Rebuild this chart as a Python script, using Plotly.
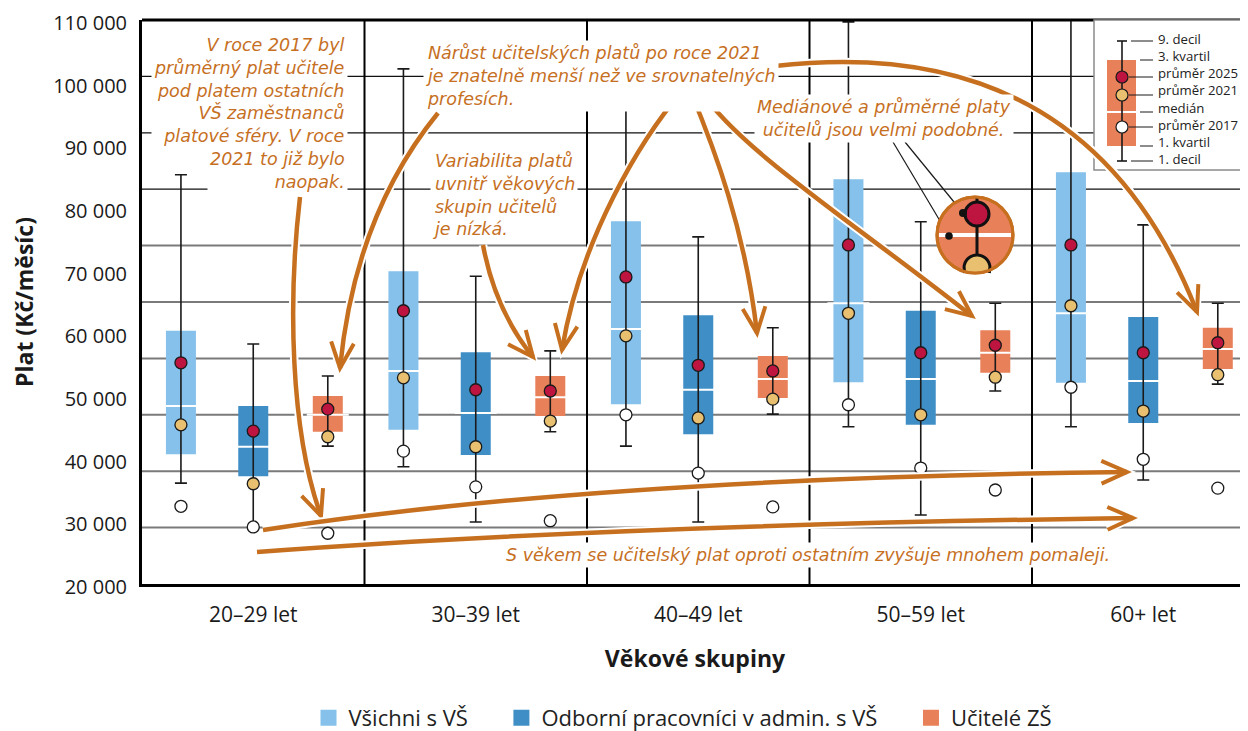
import numpy as np
import plotly.graph_objects as go

# ---------------- data ----------------
categories = ["20–29 let", "30–39 let", "40–49 let", "50–59 let", "60+ let"]
y_tick_values = [20000, 30000, 40000, 50000, 60000, 70000, 80000, 90000, 100000, 110000]
y_tick_labels = ["20 000", "30 000", "40 000", "50 000", "60 000", "70 000",
                 "80 000", "90 000", "100 000", "110 000"]
grid_gray = [29000, 38000, 47000, 56000, 65000, 74000]
grid_black = [83000, 92000, 101000]

series_names = ["Všichni s VŠ", "Odborní pracovníci v admin. s VŠ", "Učitelé ZŠ"]
series_colors = ["#85C1EA", "#3F8FC6", "#E8805A"]
series_offsets = [-0.325, 0.0, 0.335]
legend_padding = [5, 5, 0]

# Všichni s VŠ
all_decile9 = [85300, 102200, 98500, 109700, 111500]
all_quartile3 = [60400, 69900, 77900, 84600, 85700]
all_median = [48400, 54000, 60700, 64800, 63200]
all_quartile1 = [40700, 44600, 48700, 52200, 52100]
all_decile1 = [36100, 38700, 42000, 45100, 45100]
all_mean2025 = [55300, 63600, 69000, 74100, 74100]
all_mean2021 = [45400, 52900, 59600, 63200, 64400]
all_mean2017 = [32400, 41200, 47000, 48600, 51400]

# Odborní pracovníci v admin. s VŠ
adm_decile9 = [58300, 69100, 75400, 77800, 77300]
adm_quartile3 = [48400, 57000, 62900, 63600, 62600]
adm_median = [41900, 47300, 51000, 52700, 52400]
adm_quartile1 = [37200, 40600, 43900, 45400, 45700]
adm_decile1 = [29000, 29900, 29900, 31000, 36600]
adm_mean2025 = [44400, 51000, 54900, 56900, 56900]
adm_mean2021 = [36000, 41900, 46500, 47000, 47600]
adm_mean2017 = [29100, 35500, 37700, 38500, 39900]

# Učitelé ZŠ
tea_decile9 = [53200, 57200, 60900, 64800, 64800]
tea_quartile3 = [50000, 53200, 56400, 60500, 60900]
tea_median = [47000, 49800, 52700, 56900, 57500]
tea_quartile1 = [44300, 46800, 49700, 53700, 54300]
tea_decile1 = [42000, 44300, 47100, 50800, 51900]
tea_mean2025 = [47900, 50800, 54000, 58100, 58500]
tea_mean2021 = [43500, 46000, 49500, 53000, 53400]
tea_mean2017 = [28100, 30100, 32300, 35000, 35300]

series = [
    (all_decile9, all_quartile3, all_median, all_quartile1, all_decile1, all_mean2025, all_mean2021, all_mean2017),
    (adm_decile9, adm_quartile3, adm_median, adm_quartile1, adm_decile1, adm_mean2025, adm_mean2021, adm_mean2017),
    (tea_decile9, tea_quartile3, tea_median, tea_quartile1, tea_decile1, tea_mean2025, tea_mean2021, tea_mean2017),
]

# ---------------- style / geometry ----------------
FONT = "'Open Sans', Lato, sans-serif"
HAND = "'DejaVu Sans', 'Noto Sans', sans-serif"
ORANGE = "#C6701F"
RED = "#BE1540"
YELLOW = "#E8C070"
OFF = 8                      # page offset of the figure (body margin)
WIDTH, HEIGHT = 1240, 723
L, T, R, B = 142, 20, 1248, 584   # plot area in page pixels
PW, PH = R - L, B - T
UNIT = 222.5
X_RANGE = [-0.5, -0.5 + PW / UNIT]
Y_RANGE = [19999.5, 110000.5]
BOX_W = 30 / UNIT


def px(x):
    return (x - L) / PW


def py(y):
    return (B - y) / PH


def pt(x, y):
    return f"{px(x):.5f},{py(y):.5f}"


fig = go.Figure()

# boxes (1. - 3. kvartil)
for (d9, q3, med, q1, d1, m25, m21, m17), col, off in zip(series, series_colors, series_offsets):
    xs = [i + off for i in range(len(categories))]
    fig.add_trace(go.Bar(x=xs, y=[a - b for a, b in zip(q3, q1)], base=q1, width=BOX_W,
                         marker=dict(color=col, line=dict(width=0)), showlegend=False,
                         hoverinfo="skip"))
# medians
for (d9, q3, med, q1, d1, m25, m21, m17), col, off in zip(series, series_colors, series_offsets):
    xs = [i + off for i in range(len(categories))]
    fig.add_trace(go.Scatter(x=xs, y=med, mode="markers", showlegend=False, hoverinfo="skip",
                             marker=dict(symbol="line-ew", size=30, line=dict(color="white", width=2))))
# whiskers (1. decil - 9. decil)
for (d9, q3, med, q1, d1, m25, m21, m17), col, off in zip(series, series_colors, series_offsets):
    xs = [i + off for i in range(len(categories))]
    fig.add_trace(go.Scatter(
        x=xs, y=med, mode="markers", showlegend=False, hoverinfo="skip",
        marker=dict(size=1, color="rgba(0,0,0,0)"),
        error_y=dict(type="data", symmetric=False,
                     array=[a - b for a, b in zip(d9, med)],
                     arrayminus=[b - a for a, b in zip(d1, med)],
                     thickness=1.6, width=6, color="#1a1a1a")))
# means
for (d9, q3, med, q1, d1, m25, m21, m17), col, off in zip(series, series_colors, series_offsets):
    xs = [i + off for i in range(len(categories))]
    for vals, fc in ((m17, "white"), (m21, YELLOW), (m25, RED)):
        fig.add_trace(go.Scatter(x=xs, y=vals, mode="markers", showlegend=False, hoverinfo="skip",
                                 marker=dict(size=12, color=fc, line=dict(color="#1a1a1a", width=1.3))))
# legend entries
for name, col, pad in zip(series_names, series_colors, legend_padding):
    fig.add_trace(go.Scatter(x=[None], y=[None], mode="markers", name=name + "\u00a0" * pad,
                             marker=dict(symbol="square", size=16, color=col)))

shapes = []
for v in grid_gray:
    shapes.append(dict(type="line", xref="paper", yref="y", x0=0, x1=1, y0=v, y1=v,
                       line=dict(color="#7a7a7a", width=2), layer="below"))
for v in grid_black:
    shapes.append(dict(type="line", xref="paper", yref="y", x0=0, x1=1, y0=v, y1=v,
                       line=dict(color="#111111", width=1.2), layer="below"))
for b in [i + 0.5 for i in range(len(categories) - 1)]:
    shapes.append(dict(type="line", xref="x", yref="paper", x0=b, x1=b, y0=0, y1=1,
                       line=dict(color="#000000", width=2), layer="below"))
shapes.append(dict(type="line", xref="paper", yref="paper", x0=0, x1=1, y0=1, y1=1,
                   line=dict(color="#000000", width=3)))


def lshape(x0, y0, x1, y1, color, width):
    return dict(type="line", xref="paper", yref="paper", x0=px(x0), y0=py(y0), x1=px(x1), y1=py(y1),
                line=dict(color=color, width=width), layer="above")


def cshape(cx, cy, r, fill, lcol, lw):
    return dict(type="circle", xref="paper", yref="paper", x0=px(cx - r), x1=px(cx + r),
                y0=py(cy + r), y1=py(cy - r), fillcolor=fill, line=dict(color=lcol, width=lw),
                layer="above")


def pshape(path, color, width, fill="rgba(0,0,0,0)"):
    return dict(type="path", xref="paper", yref="paper", path=path, fillcolor=fill,
                line=dict(color=color, width=width), layer="above")


# explanation glyph (top right)
shapes.append(dict(type="rect", xref="paper", yref="paper", x0=px(1094), x1=px(1256), y0=py(170), y1=py(20),
                   fillcolor="white", line=dict(color="#8a8a8a", width=1.5), layer="above"))
shapes.append(dict(type="rect", xref="paper", yref="paper", x0=px(1107), x1=px(1136), y0=py(146), y1=py(60),
                   fillcolor="#E8805A", line=dict(width=0), layer="above"))
shapes.append(lshape(1107, 112, 1136, 112, "white", 2))
shapes.append(lshape(1122, 41, 1122, 161, "#1a1a1a", 1.6))
shapes.append(lshape(1117, 41, 1127, 41, "#1a1a1a", 1.6))
shapes.append(lshape(1117, 161, 1127, 161, "#1a1a1a", 1.6))
shapes.append(cshape(1122, 77, 6, RED, "#1a1a1a", 1.2))
shapes.append(cshape(1122, 95, 6, YELLOW, "#1a1a1a", 1.2))
shapes.append(cshape(1122, 127, 6, "white", "#1a1a1a", 1.2))
legend_labels = ["9. decil", "3. kvartil", "průměr 2025", "průměr 2021", "medián",
                 "průměr 2017", "1. kvartil", "1. decil"]
leader_rows = [(41, 1131), (60, 1140), (77, 1129), (95, 1129), (112, 1140), (127, 1129), (146, 1140), (161, 1131)]
for ly, lx in leader_rows:
    shapes.append(lshape(lx, ly, 1153, ly, "#1a1a1a", 1))


def brush(p0, c1, c2, p3, width=4.5, head=28, ang=24):
    path = f"M{pt(*p0)} C{pt(*c1)} {pt(*c2)} {pt(*p3)}"
    d = np.array(p3, float) - np.array(c2, float)
    d /= np.linalg.norm(d)
    arms = []
    for s in (1, -1):
        a = np.radians(ang * s)
        rd = np.array([d[0] * np.cos(a) - d[1] * np.sin(a), d[0] * np.sin(a) + d[1] * np.cos(a)])
        arms.append(np.array(p3, float) - rd * head)
    hpath = f"M{pt(*arms[0])} L{pt(*p3)} L{pt(*arms[1])}"
    return [pshape(path, "white", width + 4), pshape(hpath, "white", width + 3),
            pshape(path, ORANGE, width), pshape(hpath, ORANGE, width - 0.5)]


def qbrush(p0, q, p2, **kw):
    p0, q, p2 = (np.array(v, float) for v in (p0, q, p2))
    c1 = p0 + 2 / 3 * (q - p0)
    c2 = p2 + 2 / 3 * (q - p2)
    return brush(tuple(p0), tuple(c1), tuple(c2), tuple(p2), **kw)


shapes += brush((300, 197), (288, 300), (290, 430), (321, 516))
shapes += qbrush((438, 113), (355, 215), (340, 368))
shapes += qbrush((483, 245), (495, 310), (533, 357))
shapes += brush((683, 90), (640, 140), (580, 240), (562, 350))
shapes += brush((690, 90), (715, 150), (745, 230), (757, 333))
shapes += brush((700, 90), (740, 150), (850, 220), (972, 316))
shapes += brush((775, 66), (1000, 40), (1130, 140), (1197, 312))
shapes += qbrush((263, 530), (600, 478), (1127, 472))
shapes += qbrush((257, 552), (620, 525), (1133, 518))

# magnifier
MCX, MCY, MR = 975, 235, 38
shapes.append(lshape(893, 142, 949, 236, "#1a1a1a", 1.2))
shapes.append(lshape(905, 142, 963, 213, "#1a1a1a", 1.2))
shapes.append(cshape(MCX, MCY, MR, "#E8805A", ORANGE, 3))
shapes.append(lshape(MCX - 36, 235, MCX + 36, 235, "white", 4))
ycx, ycy, yr = 977, 268, 13
pts = []
for a in np.linspace(0, 2 * np.pi, 90):
    x, y = ycx + yr * np.cos(a), ycy + yr * np.sin(a)
    dx, dy = x - MCX, y - MCY
    dist = np.hypot(dx, dy)
    if dist > MR - 1:
        x, y = MCX + dx / dist * (MR - 1), MCY + dy / dist * (MR - 1)
    pts.append((x, y))
shapes.append(pshape("M" + " L".join(pt(*p) for p in pts) + " Z", YELLOW, 0, fill=YELLOW))
arc = [(ycx + yr * np.cos(a), ycy + yr * np.sin(a)) for a in np.linspace(np.pi * 1.03, np.pi * 1.97, 30)]
arc = [(ycx - yr * 0.95, ycy + 5)] + arc + [(ycx + yr * 0.95, ycy + 5)]
shapes.append(pshape("M" + " L".join(pt(*p) for p in arc), "#111111", 3))
shapes.append(lshape(977, 196, 977, 256, "#111111", 3))
shapes.append(cshape(977, 214, 12, RED, "#111111", 3))
shapes.append(cshape(MCX, MCY, MR, "rgba(0,0,0,0)", ORANGE, 3))
shapes.append(cshape(949, 236, 3.8, "#111111", "#111111", 0))
shapes.append(cshape(963, 213, 4, "#111111", "#111111", 0))

# ---------------- text notes ----------------
HAND_SIZE = 17.5
notes = [
    (["2021 to již bylo", "naopak."], 348, 170.5, "right", "right"),
    (["V roce 2017 byl", "průměrný plat učitele", "pod platem ostatních", "VŠ zaměstnanců",
      "platové sféry. V roce"], 348, 90.5, "right", "right"),
    (["Nárůst učitelských platů po roce 2021", "je znatelně menší než ve srovnatelných",
      "profesích."], 423, 76, "left", "left"),
    (["Variabilita platů", "uvnitř věkových", "skupin učitelů", "je nízká."], 430, 195, "left", "left"),
    (["Mediánové a průměrné platy", "učitelů jsou velmi podobné."], 884, 118.5, "center", "center"),
    (["S věkem se učitelský plat oproti ostatním zvyšuje mnohem pomaleji."], 808, 555, "center", "center"),
]
annotations = []
for lines, x, y, anchor, align in notes:
    annotations.append(dict(text="<br>".join(lines), x=px(x), y=py(y), xref="paper", yref="paper",
                            xanchor=anchor, yanchor="middle", align=align, showarrow=False,
                            font=dict(family=HAND, size=HAND_SIZE, color=ORANGE, style="italic"),
                            bgcolor="white", borderpad=2))
annotations.append(dict(text="<br>".join(legend_labels), x=px(1156), y=py(98.5), xref="paper", yref="paper",
                        xanchor="left", yanchor="middle", align="left", showarrow=False,
                        font=dict(family=FONT, size=13.2, color="#222222")))

fig.update_layout(
    template="none",
    width=WIDTH, height=HEIGHT,
    margin=dict(l=L - OFF, r=0, t=T - OFF, b=HEIGHT - (B - OFF), autoexpand=False),
    paper_bgcolor="white", plot_bgcolor="white",
    barmode="overlay",
    font=dict(family=FONT, size=20, color="#1a1a1a"),
    shapes=shapes, annotations=annotations,
    showlegend=True,
    legend=dict(orientation="h", xref="container", yref="container", x=(683 - OFF) / WIDTH,
                y=(HEIGHT - (718 - OFF)) / HEIGHT,
                xanchor="center", yanchor="middle", font=dict(size=22, color="#222222"),
                itemclick=False, itemdoubleclick=False, bgcolor="rgba(0,0,0,0)"),
    xaxis=dict(range=X_RANGE, tickvals=list(range(len(categories))), ticktext=categories,
               showgrid=False, zeroline=False, showline=True, linecolor="#000000", linewidth=3,
               ticks="outside", ticklen=10, tickcolor="rgba(0,0,0,0)", automargin=False,
               tickfont=dict(size=21),
               title=dict(text="<b>Věkové skupiny</b>", font=dict(size=23), standoff=24)),
    yaxis=dict(range=Y_RANGE, tickvals=y_tick_values, ticktext=y_tick_labels,
               showgrid=False, zeroline=False, showline=True, linecolor="#000000", linewidth=3,
               ticks="outside", ticklen=8, tickcolor="rgba(0,0,0,0)", automargin=False,
               ticklabeloverflow="allow", ticklabelshift=3,
               tickfont=dict(size=20),
               title=dict(text="<b>Plat (Kč/měsíc)</b>", font=dict(size=23), standoff=14)),
)

fig.write_html("out.html")
